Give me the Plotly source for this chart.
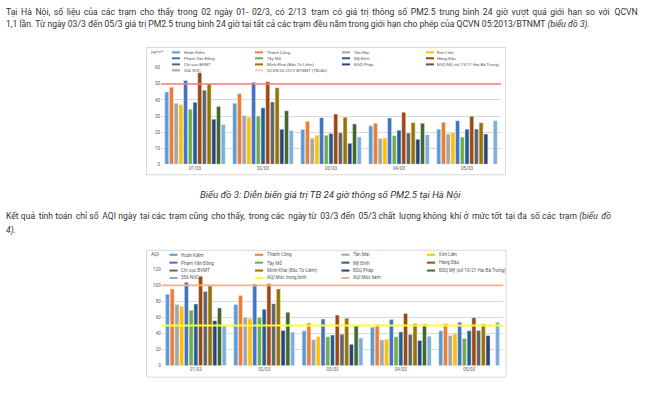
import plotly.graph_objects as go

W, H = 660, 395

days = ["01/03", "02/03", "03/03", "04/03", "05/03"]
stations = ["Hoàn Kiếm", "Thành Công", "Tân Mai", "Kim Liên", "Phạm Văn Đồng", "Tây Mỗ",
            "Mỹ Đình", "Hàng Đậu", "Chi cục BVMT", "Minh Khai (Bắc Từ Liêm)", "ĐSQ Pháp",
            "ĐSQ Mỹ (số 19/21 Hai Bà Trưng)", "556 NVC"]
colors = ["#5B9BD5", "#ED7D31", "#A5A5A5", "#FFC000", "#4472C4", "#70AD47", "#255E91",
          "#9E480E", "#636363", "#997300", "#264478", "#43682B", "#7CAFDD"]

pm25 = [
    [45, 38, 21.6, 23.9, 21.8],
    [48, 44, 26.7, 25.5, 26.1],
    [38, 30.2, 16.1, 15.9, 18.8],
    [37, 29.2, 18, 16.3, 19.8],
    [52.2, 51, 29, 28.8, 27.1],
    [34.3, 30, 18, 17.8, 16.9],
    [38.6, 35.1, 19.2, 21.2, 21.8],
    [57, 51.4, 31.2, 32.4, 29.8],
    [46.1, 38.8, 19.6, 19.4, 22],
    [50, 47.6, 29.2, 25.9, 25.9],
    [28, 21.8, 13, 15.5, 18.8],
    [36, 33.3, 25.1, 25.5, None],
    [24.7, 21, 17, 18.4, 27.1],
]
aqi = [
    [89, 76, 43.3, 47.8, 43.3],
    [95.5, 87.3, 53, 51.4, 52.2],
    [76, 60, 32.2, 31.8, 37.6],
    [74, 58.4, 36.3, 33, 39.6],
    [103.7, 101.6, 58, 57.6, 53.9],
    [69, 60, 36, 36, 33.9],
    [76.7, 70.2, 38, 42, 43.3],
    [111.4, 102, 62.9, 65, 59.6],
    [92.2, 77.1, 39.2, 38.8, 43.7],
    [99.6, 95.5, 59, 52.2, 51.8],
    [56, 43.7, 26.5, 31.4, 37.6],
    [71.8, 66.5, 49.8, 51.4, None],
    [49.8, 41.6, 34.3, 36.7, 53.9],
]

pm_limit_name = "QCVN 05:2013 BTNMT (TB24h)"
pm_limit = 50
aqi_lines = ["AQI Mức trung bình", "AQI Mức kém"]
aqi_levels = [50, 100]
aqi_colors = ["#FFFF33", "#F4B183"]

pm_ticks = [0, 10, 20, 30, 40, 50, 60]
aqi_ticks = [0, 20, 40, 60, 80, 100, 120]

para1 = "Tại Hà Nội, số liệu của các trạm cho thấy trong 02 ngày 01- 02/3, có 2/13 trạm có giá trị thông số PM2.5 trung bình 24 giờ vượt quá giới hạn so với QCVN"
para2 = "1,1 lần. Từ ngày 03/3 đến 05/3 giá trị PM2.5 trung bình 24 giờ tại tất cả các trạm đều nằm trong giới hạn cho phép của QCVN 05:2013/BTNMT "
para2_it = "(biểu đồ 3)."
caption = "Biểu đồ 3: Diễn biến giá trị TB 24 giờ thông số PM2.5 tại Hà Nội"
para3 = "Kết quả tính toán chỉ số AQI ngày tại các trạm cũng cho thấy, trong các ngày từ 03/3 đến 05/3 chất lượng không khí ở mức tốt tại đa số các trạm "
para3_it = "(biểu đồ"
para4_it = "4)."


def px(x):
    return x / W


def py(y):
    return 1 - y / H


def justify(s, extra):
    """Widen word gaps (like CSS text-align: justify) with six-per-em spaces."""
    words = s.split(" ")
    n = len(words) - 1
    out = words[0]
    for j in range(n):
        k = (j + 1) * extra // n - j * extra // n
        out += " " + "\u2006" * k + words[j + 1]
    return out


fig = go.Figure()
for i, s in enumerate(stations):
    fig.add_trace(go.Bar(x=days, y=pm25[i], name=s, marker_color=colors[i],
                         xaxis="x", yaxis="y", showlegend=False))
for i, s in enumerate(stations):
    fig.add_trace(go.Bar(x=days, y=aqi[i], name=s, marker_color=colors[i],
                         xaxis="x2", yaxis="y2", showlegend=False))

shapes = []
annotations = []
TXT = "#333333"
FONT = "Roboto"

# chart frames
shapes.append(dict(type="rect", xref="paper", yref="paper", x0=px(146.5), x1=px(505.5),
                   y0=py(175), y1=py(46), line=dict(color="#D9D9D9", width=1), layer="below"))
shapes.append(dict(type="rect", xref="paper", yref="paper", x0=px(146.5), x1=px(506),
                   y0=py(380), y1=py(251.5), line=dict(color="#D9D9D9", width=1), layer="below"))

# reference lines
shapes.append(dict(type="line", xref="x domain", yref="y", x0=0, x1=1, y0=pm_limit, y1=pm_limit,
                   line=dict(color="#FF7C80", width=1.5)))
for lv, c in zip(aqi_levels, aqi_colors):
    shapes.append(dict(type="line", xref="x2 domain", yref="y2", x0=0, x1=1, y0=lv, y1=lv,
                       line=dict(color=c, width=1.8)))


# manual legends
def legend(names, cols, col_x, row_y, fsize, seglen):
    for i, (n, c) in enumerate(zip(names, cols)):
        r, k = divmod(i, 4)
        x0 = col_x[k]
        y0 = row_y[r]
        shapes.append(dict(type="line", xref="paper", yref="paper", x0=px(x0), x1=px(x0 + seglen),
                           y0=py(y0), y1=py(y0), line=dict(color=c, width=2)))
        annotations.append(dict(xref="paper", yref="paper", x=px(x0 + seglen + 1.5), y=py(y0),
                                text=n, showarrow=False, xanchor="left", yanchor="middle",
                                font=dict(family=FONT, size=fsize, color="#595959")))


legend(stations + [pm_limit_name], colors + ["#F8CBAD"],
       [172, 255, 342, 426], [51, 57, 63.2, 69.2], 4.3, 8)
legend(stations + aqi_lines, colors + aqi_colors,
       [169.5, 255, 341.5, 427], [256, 264, 272, 279.5], 4.6, 8)

annotations.append(dict(xref="paper", yref="paper", x=px(149), y=py(50), text="μg/m³",
                        showarrow=False, xanchor="left", yanchor="middle",
                        font=dict(family=FONT, size=4.3, color="#595959")))
annotations.append(dict(xref="paper", yref="paper", x=px(148.5), y=py(255.5), text="AQI",
                        showarrow=False, xanchor="left", yanchor="middle",
                        font=dict(family=FONT, size=5, color="#595959")))


# page texts
def text(x, y, t, size=8.6, anchor="left"):
    annotations.append(dict(xref="paper", yref="paper", x=px(x), y=py(y), text=t,
                            showarrow=False, xanchor=anchor, yanchor="middle",
                            font=dict(family=FONT, size=size, color=TXT)))


text(4, 10, justify(para1, 36))
text(4, 23, para2 + "<i>" + para2_it + "</i>")
text(330, 195, "<i>" + caption + "</i>", size=9.6, anchor="center")
text(4, 217, justify(para3 + "<i>" + para3_it + "</i>", 17))
text(4, 231, "<i>" + para4_it + "</i>")

axis_font = dict(family=FONT, size=4.5, color="#595959")
fig.update_layout(
    width=W, height=H, margin=dict(l=0, r=0, t=0, b=0),
    paper_bgcolor="white", plot_bgcolor="white",
    barmode="group", bargap=0.1, bargroupgap=0.15,
    shapes=shapes, annotations=annotations, showlegend=False,
    xaxis=dict(domain=[px(161), px(501)], anchor="y", showgrid=False, ticks="",
               tickfont=axis_font, showline=False, zeroline=False),
    yaxis=dict(domain=[py(164.3), py(66.7)], anchor="x", range=[0, 60], tickvals=pm_ticks,
               gridcolor="#D9D9D9", gridwidth=0.8, zeroline=False, tickfont=axis_font, ticks=""),
    xaxis2=dict(domain=[px(161.7), px(503.3)], anchor="y2", showgrid=False, ticks="",
                tickfont=axis_font, showline=False, zeroline=False),
    yaxis2=dict(domain=[py(368.3), py(270.7)], anchor="x2", range=[0, 120], tickvals=aqi_ticks,
                gridcolor="#D9D9D9", gridwidth=0.8, zeroline=False, tickfont=axis_font, ticks=""),
)

fig.write_html("out.html", config={"displayModeBar": False},
               post_script="document.body.style.margin='0';document.body.style.overflow='hidden';")
